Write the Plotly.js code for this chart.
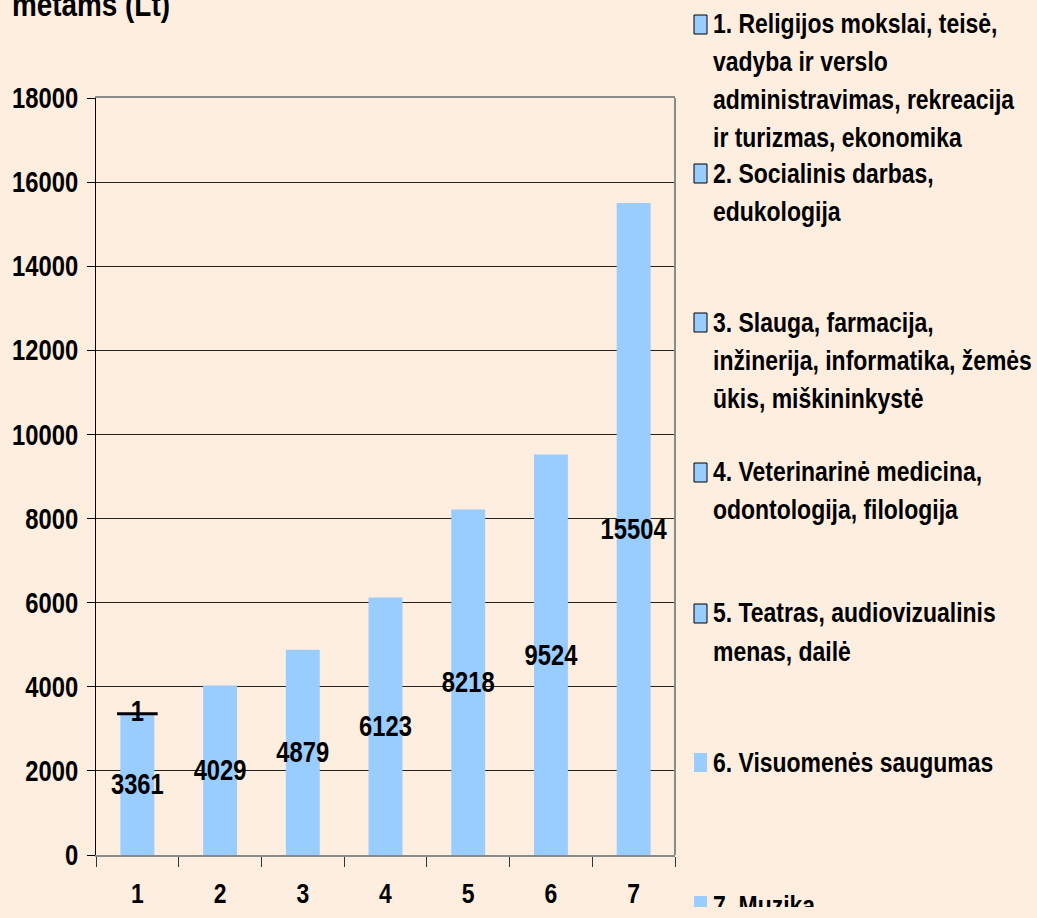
<!DOCTYPE html>
<html>
<head>
<meta charset="utf-8">
<script src="https://cdn.plot.ly/plotly-3.0.1.min.js"></script>
<style>
  html, body { margin: 0; padding: 0; background: #FEEEE0; }
  #chart { width: 1037px; height: 907px; }
</style>
</head>
<body>
<div id="chart"></div>
<script>
// ---- data ----
const categories = ['1', '2', '3', '4', '5', '6', '7'];
const values = [3361, 4029, 4879, 6123, 8218, 9524, 15504];
const valueLabels = ['3361', '4029', '4879', '6123', '8218', '9524', '15504'];
const markerCategory = ['1'];
const markerValue = [3361];
const markerLabel = ['1'];
const titleText = 'metams (Lt)';
const yTickValues = [0, 2000, 4000, 6000, 8000, 10000, 12000, 14000, 16000, 18000];
const legendLabels = [
  ['1. Religijos mokslai, teisė,', 'vadyba ir verslo', 'administravimas, rekreacija', 'ir turizmas, ekonomika'],
  ['2. Socialinis darbas,', 'edukologija'],
  ['3. Slauga, farmacija,', 'inžinerija, informatika, žemės', 'ūkis, miškininkystė'],
  ['4. Veterinarinė medicina,', 'odontologija, filologija'],
  ['5. Teatras, audiovizualinis', 'menas, dailė'],
  ['6. Visuomenės saugumas'],
  ['7. Muzika']
];

// ---- layout geometry (pixels) ----
const FW = 1037, FH = 907;
const M = { l: 96, r: FW - 675, t: 98, b: FH - 855 };
const PW = FW - M.l - M.r, PH = FH - M.t - M.b;
const px = x => (x - M.l) / PW;
const py = y => (FH - M.b - y) / PH;

const FONT = '"Liberation Sans", Arial, sans-serif';
const NARROW = 0.82;   // horizontal condensing to mimic a narrow bold face
const BG = '#FEEEE0';
const BAR = '#99CCFF';

const legendFirstLineY = [24, 173, 322, 472, 613, 762, 905];
const legendBorder = [true, true, true, true, true, false, false];
const lineGap = 38;

const annotations = [];
const shapes = [];

// title (top partially cut like the reference)
annotations.push({
  xref: 'paper', yref: 'paper', x: px(10), y: py(4),
  xanchor: 'left', yanchor: 'middle', align: 'left', showarrow: false,
  text: '<b>' + titleText + '</b>',
  font: { family: FONT, size: 34, color: '#000' }
});

legendLabels.forEach((lines, i) => {
  const y0 = legendFirstLineY[i];
  shapes.push({
    type: 'rect', xref: 'paper', yref: 'paper',
    x0: px(694), x1: px(707), y0: py(y0 - 9), y1: py(y0 + 10),
    fillcolor: BAR,
    line: { color: legendBorder[i] ? '#000' : BAR, width: legendBorder[i] ? 1 : 0 }
  });
  lines.forEach((ln, j) => {
    annotations.push({
      xref: 'paper', yref: 'paper', x: px(711), y: py(y0 + j * lineGap),
      xanchor: 'left', yanchor: 'middle', align: 'left', showarrow: false,
      text: '<b>' + ln + '</b>',
      font: { family: FONT, size: 28, color: '#000' }
    });
  });
});

// right border of plot area
shapes.push({
  type: 'line', xref: 'paper', yref: 'paper', x0: 1, x1: 1, y0: 0, y1: 1,
  line: { color: '#8a8a8a', width: 2 }
});

const traces = [
  {
    type: 'bar',
    x: categories,
    y: values,
    text: valueLabels,
    textposition: 'inside',
    insidetextanchor: 'middle',
    constraintext: 'none',
    textangle: 0,
    cliponaxis: false,
    insidetextfont: { family: FONT, size: 29, color: '#000', weight: 'bold' },
    textfont: { family: FONT, size: 29, color: '#000', weight: 'bold' },
    marker: { color: BAR, line: { width: 0 } },
    width: 0.41,
    showlegend: false,
    hoverinfo: 'x+y'
  },
  {
    type: 'scatter',
    mode: 'markers+text',
    x: markerCategory,
    y: markerValue,
    text: markerLabel,
    textposition: 'middle center',
    textfont: { family: FONT, size: 29, color: '#000', weight: 'bold' },
    marker: { symbol: 'line-ew-open', size: 29, color: '#000', line: { color: '#000', width: 3 } },
    cliponaxis: false,
    showlegend: false
  }
];

const layout = {
  width: FW, height: FH,
  margin: M,
  paper_bgcolor: BG,
  plot_bgcolor: BG,
  showlegend: false,
  font: { family: FONT, color: '#000' },
  xaxis: {
    type: 'category',
    tickson: 'boundaries',
    ticks: 'outside', ticklen: 10, tickwidth: 1, tickcolor: '#333',
    showline: true, linecolor: '#8a8a8a', linewidth: 2, mirror: true,
    showgrid: false,
    tickfont: { family: FONT, size: 28, color: '#000', weight: 'bold' },
    ticklabelstandoff: 12,
    range: [-0.5, 6.5]
  },
  yaxis: {
    range: [0, 18000],
    tickvals: yTickValues,
    ticktext: yTickValues.map(String),
    ticks: 'outside', ticklen: 8, tickwidth: 1, tickcolor: '#000',
    showline: true, linecolor: '#000', linewidth: 1,
    showgrid: true, gridcolor: '#222', gridwidth: 1,
    zeroline: false,
    tickfont: { family: FONT, size: 29, color: '#000', weight: 'bold' },
    ticklabelstandoff: 3
  },
  annotations: annotations,
  shapes: shapes
};

function condense(gd, s) {
  gd.querySelectorAll('svg.main-svg text').forEach(t => {
    const x = parseFloat(t.getAttribute('x')) || 0;
    const prev = t.getAttribute('transform') || '';
    t.setAttribute('transform', (prev + ' translate(' + x + ',0) scale(' + s + ',1) translate(' + (-x) + ',0)').trim());
  });
}

Plotly.newPlot('chart', traces, layout, { displayModeBar: false, staticPlot: true })
  .then(gd => condense(gd, NARROW));
</script>
</body>
</html>
